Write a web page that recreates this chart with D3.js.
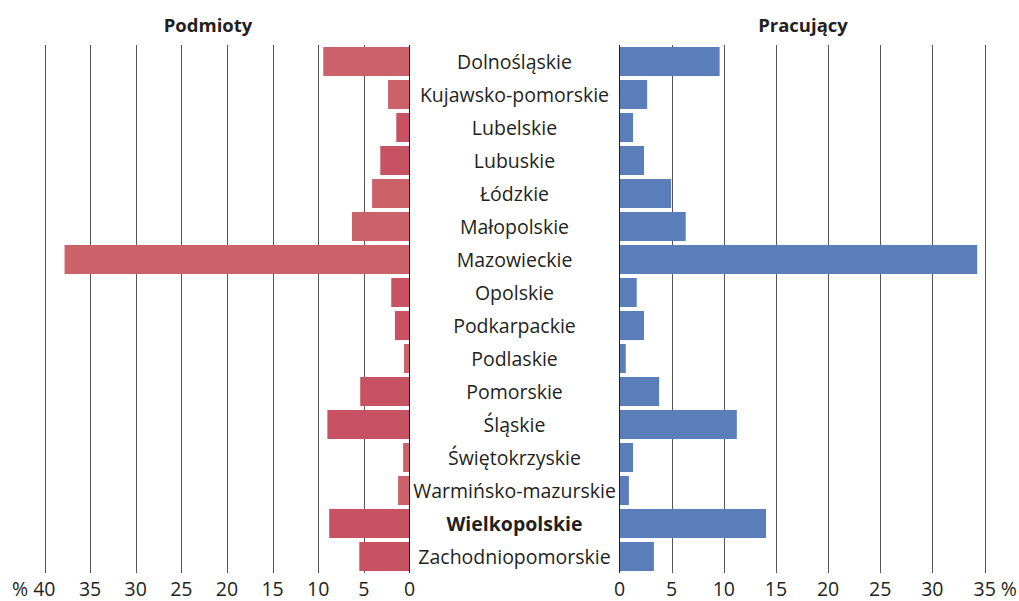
<!DOCTYPE html>
<html>
<head>
<meta charset="utf-8">
<script src="https://cdn.jsdelivr.net/npm/d3@7"></script>
<style>
  body { margin: 0; background: #fff; }
  text { font-family: "Open Sans", "DejaVu Sans", sans-serif; fill: #231f20; }
</style>
</head>
<body>
<svg width="1019" height="601"></svg>
<script>
'use strict';

var regions = ['Dolnośląskie', 'Kujawsko-pomorskie', 'Lubelskie', 'Lubuskie', 'Łódzkie',
    'Małopolskie', 'Mazowieckie', 'Opolskie', 'Podkarpackie', 'Podlaskie', 'Pomorskie',
    'Śląskie', 'Świętokrzyskie', 'Warmińsko-mazurskie', 'Wielkopolskie', 'Zachodniopomorskie'];
var podmioty = [9.45, 2.35, 1.45, 3.2, 4.1, 6.3, 37.8, 2.0, 1.6, 0.6, 5.4, 9.0, 0.7, 1.25, 8.8, 5.5];
var pracujacy = [9.6, 2.65, 1.3, 2.35, 4.95, 6.35, 34.3, 1.65, 2.35, 0.6, 3.8, 11.25, 1.3, 0.9, 14.05, 3.3];
var leftTicks = [40, 35, 30, 25, 20, 15, 10, 5, 0];
var rightTicks = [0, 5, 10, 15, 20, 25, 30, 35];

// shades used in the original (two tones of red on the left)
var darkRed = ['Lubelskie', 'Lubuskie', 'Opolskie', 'Podkarpackie', 'Pomorskie', 'Śląskie',
    'Wielkopolskie', 'Zachodniopomorskie'];

var svg = d3.select('svg'),
    plotTop = 45,
    plotBottom = 573,
    fontSize = '19.5px';

var xl = d3.scaleLinear().domain([0, 40]).range([409.5, 44.5]);
var xr = d3.scaleLinear().domain([0, 35]).range([619.5, 984.5]);
var y = d3.scaleBand().domain(regions).range([plotTop, plotBottom]).paddingInner(0.12).paddingOuter(0.06);

// grid lines
svg.append('g').selectAll('line')
    .data(leftTicks.slice(0, -1))
    .enter().append('line')
    .attr('x1', function(d) { return Math.round(xl(d)) + 0.5; })
    .attr('x2', function(d) { return Math.round(xl(d)) + 0.5; })
    .attr('y1', plotTop).attr('y2', plotBottom)
    .attr('stroke', '#555');

svg.append('g').selectAll('line')
    .data(rightTicks.slice(1))
    .enter().append('line')
    .attr('x1', function(d) { return Math.round(xr(d)) + 0.5; })
    .attr('x2', function(d) { return Math.round(xr(d)) + 0.5; })
    .attr('y1', plotTop).attr('y2', plotBottom)
    .attr('stroke', '#555');

// bars
svg.append('g').selectAll('rect')
    .data(regions)
    .enter().append('rect')
    .attr('x', function(d, i) { return xl(podmioty[i]); })
    .attr('y', function(d) { return y(d); })
    .attr('width', function(d, i) { return xl(0) - xl(podmioty[i]); })
    .attr('height', y.bandwidth())
    .attr('fill', function(d) { return darkRed.indexOf(d) >= 0 ? '#c85263' : '#cc6269'; });

svg.append('g').selectAll('rect')
    .data(regions)
    .enter().append('rect')
    .attr('x', xr(0))
    .attr('y', function(d) { return y(d); })
    .attr('width', function(d, i) { return xr(pracujacy[i]) - xr(0); })
    .attr('height', y.bandwidth())
    .attr('fill', '#5a7eba');

// zero axes
svg.append('line')
    .attr('x1', xl(0)).attr('x2', xl(0))
    .attr('y1', plotTop).attr('y2', plotBottom)
    .attr('stroke', '#231f20');
svg.append('line')
    .attr('x1', xr(0)).attr('x2', xr(0))
    .attr('y1', plotTop).attr('y2', plotBottom)
    .attr('stroke', '#231f20');

// category labels
svg.append('g').selectAll('text')
    .data(regions)
    .enter().append('text')
    .attr('x', (xl(0) + xr(0)) / 2)
    .attr('y', function(d) { return y(d) + y.bandwidth() / 2 + 7; })
    .attr('text-anchor', 'middle')
    .style('font-size', fontSize)
    .style('font-weight', function(d) { return d === 'Wielkopolskie' ? 'bold' : 'normal'; })
    .text(function(d) { return d; });

// tick labels
svg.append('g').selectAll('text')
    .data(leftTicks)
    .enter().append('text')
    .attr('x', function(d) { return xl(d); })
    .attr('y', 596)
    .attr('text-anchor', function(d) { return d === 40 ? 'end' : 'middle'; })
    .attr('dx', function(d) { return d === 40 ? '11' : '0'; })
    .style('font-size', fontSize)
    .text(function(d) { return d === 40 ? '% 40' : d; });

svg.append('g').selectAll('text')
    .data(rightTicks)
    .enter().append('text')
    .attr('x', function(d) { return xr(d); })
    .attr('y', 596)
    .attr('text-anchor', function(d) { return d === 35 ? 'start' : 'middle'; })
    .attr('dx', function(d) { return d === 35 ? '-11' : '0'; })
    .style('font-size', fontSize)
    .text(function(d) { return d === 35 ? '35 %' : d; });

// panel titles
svg.append('text')
    .attr('x', 208).attr('y', 32)
    .attr('text-anchor', 'middle')
    .style('font-size', '18.5px').style('font-weight', 'bold')
    .text('Podmioty');
svg.append('text')
    .attr('x', 803).attr('y', 32)
    .attr('text-anchor', 'middle')
    .style('font-size', '18.5px').style('font-weight', 'bold')
    .text('Pracujący');
</script>
</body>
</html>
